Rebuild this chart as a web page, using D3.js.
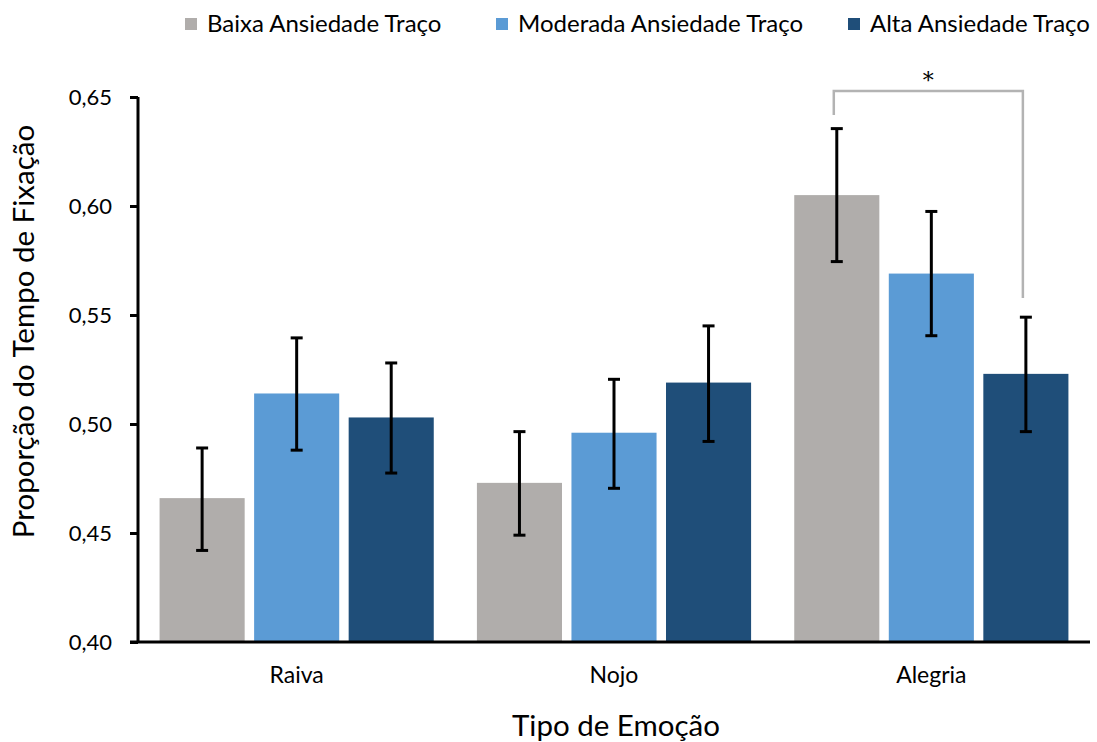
<!DOCTYPE html>
<html>
<head>
<meta charset="utf-8">
<script src="https://cdn.jsdelivr.net/npm/d3@7"></script>
<style>
  body { margin: 0; background: white; }
  svg, svg text { font-family: Lato, "Open Sans", sans-serif; }
</style>
</head>
<body>
<div id="chart"></div>
<script>
// data
let categories = ["Raiva", "Nojo", "Alegria"];
let series = ["Baixa Ansiedade Traço", "Moderada Ansiedade Traço", "Alta Ansiedade Traço"];
let colors = ["#b0adab", "#5b9bd5", "#1f4e79"];
let means = [
  [0.466, 0.514, 0.503],   // Raiva
  [0.473, 0.496, 0.519],   // Nojo
  [0.605, 0.569, 0.523]    // Alegria
];
let errHigh = [
  [0.489, 0.5395, 0.528],
  [0.4965, 0.5205, 0.545],
  [0.6355, 0.5975, 0.549]
];
let errLow = [
  [0.442, 0.488, 0.4775],
  [0.449, 0.4705, 0.492],
  [0.5745, 0.5405, 0.4965]
];
let yTicks = [0.40, 0.45, 0.50, 0.55, 0.60, 0.65];
// significance bracket: Alegria, Baixa vs Alta
let bracket = { cat: "Alegria", from: 0, to: 2, top: 0.6527, leftEnd: 0.6417, rightEnd: 0.5578, label: "*" };

let W = 1097, H = 742;
let margin = { top: 97, left: 138, right: 7, bottom: 100 };

let svg = d3.select("#chart").append("svg")
  .attr("width", W).attr("height", H);

let x0 = d3.scaleBand().domain(categories)
  .range([margin.left, W - margin.right])
  .paddingInner(0.136).paddingOuter(0.068);
let x1 = d3.scaleBand().domain(d3.range(series.length))
  .range([0, x0.bandwidth()]).paddingInner(0.1);
let y = d3.scaleLinear().domain([0.40, 0.65]).range([H - margin.bottom, margin.top]);

// bars
let groups = svg.selectAll(".grp").data(categories).enter().append("g")
  .attr("transform", d => "translate(" + x0(d) + ",0)");

groups.selectAll("rect")
  .data((c, i) => means[i].map((v, j) => ({ v: v, j: j })))
  .enter().append("rect")
  .attr("x", d => x1(d.j))
  .attr("width", x1.bandwidth())
  .attr("y", d => y(d.v))
  .attr("height", d => y(0.40) - y(d.v))
  .attr("fill", d => colors[d.j]);

// error bars
let errs = groups.selectAll(".err")
  .data((c, i) => means[i].map((v, j) => ({ hi: errHigh[i][j], lo: errLow[i][j], j: j })))
  .enter().append("g").attr("class", "err")
  .attr("stroke", "black").attr("stroke-width", 3);
errs.append("line")
  .attr("x1", d => x1(d.j) + x1.bandwidth() / 2)
  .attr("x2", d => x1(d.j) + x1.bandwidth() / 2)
  .attr("y1", d => y(d.hi)).attr("y2", d => y(d.lo));
errs.append("line")
  .attr("x1", d => x1(d.j) + x1.bandwidth() / 2 - 6)
  .attr("x2", d => x1(d.j) + x1.bandwidth() / 2 + 6)
  .attr("y1", d => y(d.hi)).attr("y2", d => y(d.hi));
errs.append("line")
  .attr("x1", d => x1(d.j) + x1.bandwidth() / 2 - 6)
  .attr("x2", d => x1(d.j) + x1.bandwidth() / 2 + 6)
  .attr("y1", d => y(d.lo)).attr("y2", d => y(d.lo));

// y axis
let yAxis = svg.append("g")
  .attr("transform", "translate(" + margin.left + ",0)")
  .call(d3.axisLeft(y).tickValues(yTicks).tickSize(8).tickPadding(18)
    .tickFormat(d => d3.format(".2f")(d).replace(".", ",")));
yAxis.attr("font-family", null);
yAxis.select(".domain").attr("stroke-width", 3).attr("d", "M0," + y(0.65) + "V" + y(0.40));
yAxis.selectAll(".tick line").attr("stroke-width", 3);
yAxis.selectAll("text").attr("font-size", 22).attr("fill", "#000");

// x axis
let xAxis = svg.append("g")
  .attr("transform", "translate(0," + y(0.40) + ")")
  .call(d3.axisBottom(x0).tickSize(0).tickPadding(25));
xAxis.attr("font-family", null);
xAxis.select(".domain").attr("stroke-width", 3).attr("d", "M" + (margin.left - 8) + ",0H" + (W - margin.right));
xAxis.selectAll("text").attr("font-size", 23).attr("fill", "#000");

// axis titles
svg.append("text")
  .attr("x", 616).attr("y", 736)
  .attr("text-anchor", "middle").attr("font-size", 29.5)
  .text("Tipo de Emoção");
svg.append("text")
  .attr("transform", "translate(34," + ((y(0.40) + y(0.65)) / 2 - 38) + ") rotate(-90)")
  .attr("text-anchor", "middle").attr("font-size", 29.5)
  .text("Proporção do Tempo de Fixação");

// significance bracket
let bx1 = x0(bracket.cat) + x1(bracket.from) + x1.bandwidth() / 2 - 3;
let bx2 = x0(bracket.cat) + x1(bracket.to) + x1.bandwidth() / 2 - 3;
svg.append("path")
  .attr("d", "M" + bx1 + "," + y(bracket.leftEnd) + "V" + y(bracket.top) + "H" + bx2 + "V" + y(bracket.rightEnd))
  .attr("fill", "none").attr("stroke", "#b3b3b3").attr("stroke-width", 2.5);
svg.append("text")
  .attr("x", (bx1 + bx2) / 2).attr("y", y(bracket.top) - 3)
  .attr("text-anchor", "middle").attr("font-size", 22)
  .style("font-family", "'DejaVu Serif', serif")
  .text(bracket.label);

// legend
let legendX = [185, 496, 848];
let legend = svg.selectAll(".leg").data(series).enter().append("g")
  .attr("transform", (d, i) => "translate(" + legendX[i] + ",18)");
legend.append("rect").attr("width", 12).attr("height", 12)
  .attr("fill", (d, i) => colors[i]);
legend.append("text").attr("x", 22).attr("y", 13.5)
  .attr("font-size", 24).text(d => d);
</script>
</body>
</html>
